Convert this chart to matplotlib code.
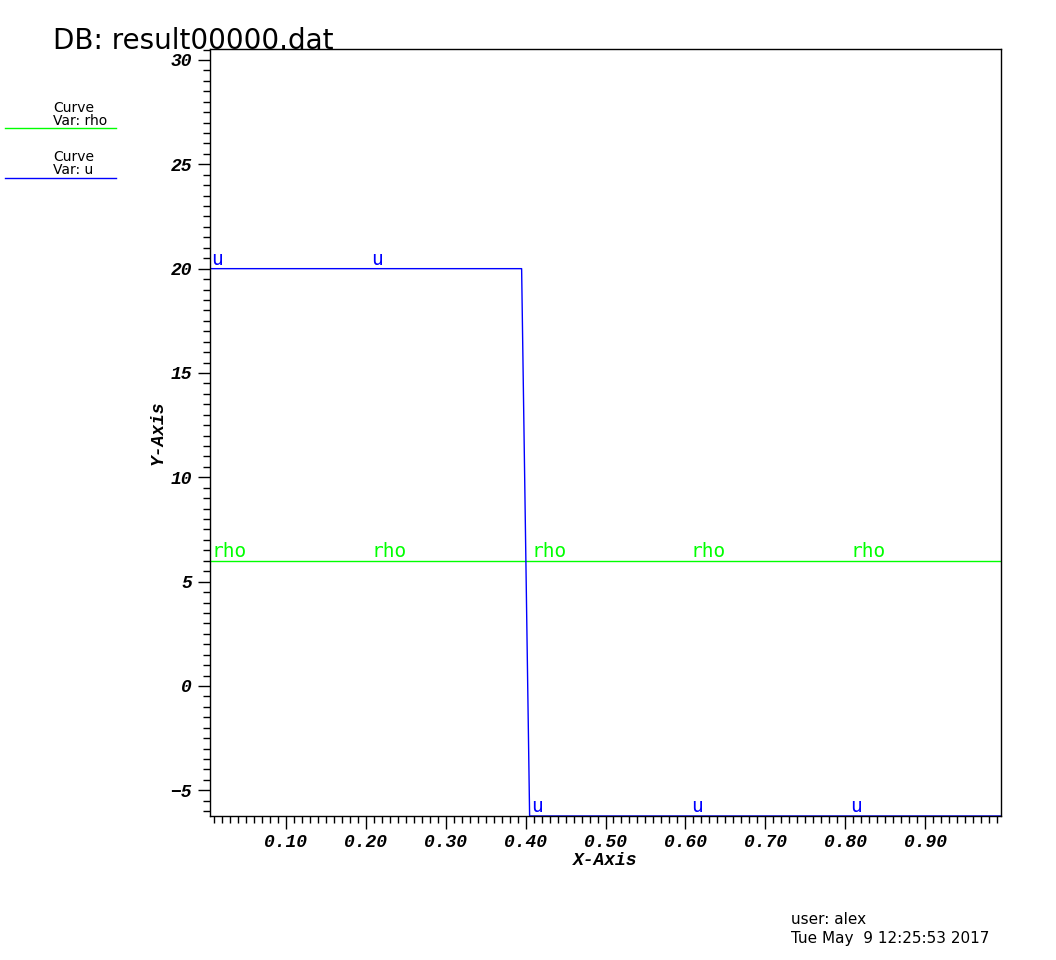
import numpy as np
import matplotlib
matplotlib.use("Agg")
import matplotlib.pyplot as plt
from matplotlib.ticker import MultipleLocator, FixedLocator

# curve data
x_u = [0.005, 0.395, 0.405, 0.995]
u = [20.0, 20.0, -6.23, -6.23]
x_rho = [0.005, 0.995]
rho = [6.0, 6.0]

# where the curve labels sit
lab_x = [0.005, 0.205, 0.405, 0.605, 0.805]
lab_u = [20.0, 20.0, -6.23, -6.23, -6.23]
lab_rho = [6.0, 6.0, 6.0, 6.0, 6.0]

x_ticks = [0.1, 0.2, 0.3, 0.4, 0.5, 0.6, 0.7, 0.8, 0.9]
x_ticklabels = ["0.10", "0.20", "0.30", "0.40", "0.50", "0.60", "0.70", "0.80", "0.90"]
y_ticks = [-5, 0, 5, 10, 15, 20, 25, 30]

blue = "#0000ff"
green = "#00ff00"

fig = plt.figure(figsize=(10.56, 9.6), dpi=100)
ax = fig.add_axes([0.1989, 0.15, 0.749, 0.7986])

ax.plot(x_rho, rho, color=green, lw=1.0, zorder=2)
ax.plot(x_u, u, color=blue, lw=1.0, zorder=2)

mono = "DejaVu Sans Mono"
for xx, yy in zip(lab_x, lab_rho):
    ax.annotate("rho", (xx, yy), xytext=(1, 0), textcoords="offset points",
                ha="left", va="bottom", color=green, fontsize=14, family=mono)
for xx, yy in zip(lab_x, lab_u):
    ax.annotate("u", (xx, yy), xytext=(1, 0), textcoords="offset points",
                ha="left", va="bottom", color=blue, fontsize=14, family=mono)

ax.set_xlim(0.005, 0.995)
ax.set_ylim(-6.23, 30.51)

ax.xaxis.set_major_locator(FixedLocator(x_ticks))
ax.set_xticklabels(x_ticklabels)
ax.xaxis.set_minor_locator(MultipleLocator(0.01))
ax.yaxis.set_major_locator(FixedLocator(y_ticks))
ax.yaxis.set_minor_locator(MultipleLocator(0.5))

ax.tick_params(which="major", direction="out", length=9, width=1, color="black", pad=4)
ax.tick_params(which="minor", direction="out", length=5, width=1, color="black")
ax.tick_params(top=False, right=False, which="both")
for sp in ax.spines.values():
    sp.set_linewidth(1.0)
    sp.set_zorder(3)

tick_font = dict(family="Liberation Mono", weight="bold", style="italic", size=13)
for t in ax.get_xticklabels() + ax.get_yticklabels():
    t.set_fontproperties(matplotlib.font_manager.FontProperties(**tick_font))

ax.set_xlabel("X-Axis", labelpad=1, **tick_font)
ax.set_ylabel("Y-Axis", labelpad=3, **tick_font)

# title and legend
fig.text(0.0502, 0.9486, "DB: result00000.dat", family="DejaVu Sans",
         fontsize=20, va="baseline", ha="left")

leg_font = dict(family="DejaVu Sans", fontsize=10, ha="left", va="baseline")
fig.text(53 / 1056, 1 - 112 / 960, "Curve", **leg_font)
fig.text(53 / 1056, 1 - 125 / 960, "Var: rho", **leg_font)
fig.add_artist(plt.Line2D([5 / 1056, 116 / 1056], [1 - 127.5 / 960] * 2, color=green, lw=1.0))
fig.text(53 / 1056, 1 - 161 / 960, "Curve", **leg_font)
fig.text(53 / 1056, 1 - 174 / 960, "Var: u", **leg_font)
fig.add_artist(plt.Line2D([5 / 1056, 116 / 1056], [1 - 177.5 / 960] * 2, color=blue, lw=1.0))

fig.text(791 / 1056, 1 - 924 / 960, "user: alex", family="DejaVu Sans", fontsize=11,
         ha="left", va="baseline")
fig.text(791 / 1056, 1 - 943 / 960, "Tue May  9 12:25:53 2017", family="DejaVu Sans",
         fontsize=11, ha="left", va="baseline")

fig.savefig("out.png", dpi=100)
